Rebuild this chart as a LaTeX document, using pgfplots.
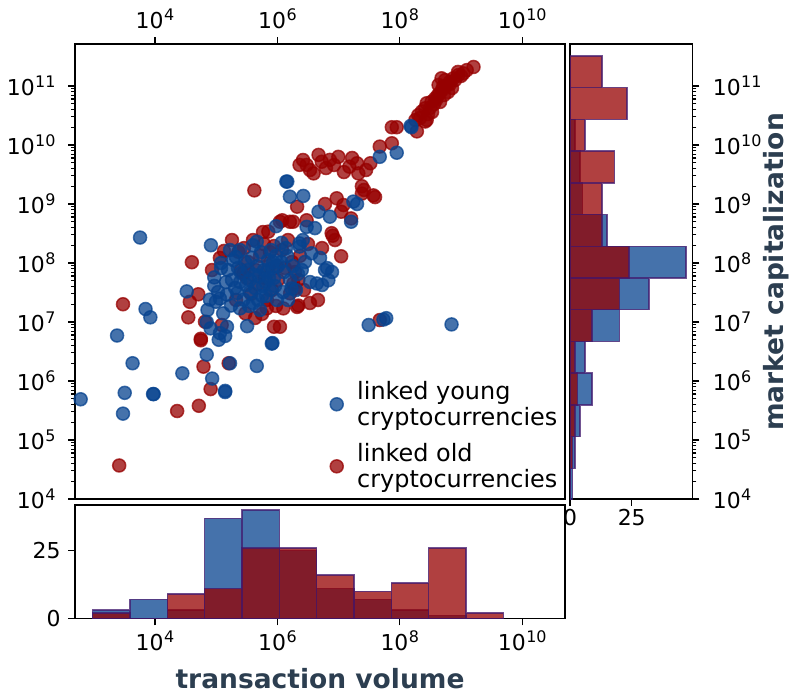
\documentclass[border=0pt]{standalone}
\usepackage{fontspec}
\setmainfont{DejaVu Sans}
\usepackage{pgfplots}
\pgfplotsset{compat=1.18}
\definecolor{ybl}{RGB}{7,67,143}
\definecolor{ord}{RGB}{150,0,0}
\definecolor{edg}{RGB}{65,25,110}
\definecolor{lab}{RGB}{44,62,80}
\newcommand\tp[1]{10\kern0.5bp\raisebox{0.35em}{\fontsize{16}{16}\selectfont #1}}
\pgfplotsset{log number format basis/.code 2 args={\tp{\pgfmathprintnumber{#2}}}}
\pgfplotsset{
  every axis/.append style={scale only axis,
    axis line style={line width=1.3bp},
    every tick/.style={line width=1.2bp, black},
    major tick length=7bp, minor tick length=4bp, tick align=outside,
    tick label style={font=\fontsize{22}{24}\selectfont},
    /pgf/number format/assume math mode=true},
  bluept/.style={only marks, mark=*, mark size=6.5bp,
    mark options={fill=ybl, draw=ybl, line width=1.5bp, fill opacity=0.75, draw opacity=0.75}},
  redpt/.style={only marks, mark=*, mark size=6.5bp,
    mark options={fill=ord, draw=ord, line width=1.5bp, fill opacity=0.75, draw opacity=0.75}},
  bluebar/.style={fill=ybl, fill opacity=0.75, draw=edg, draw opacity=0.75, line width=1.5bp},
  redbar/.style={fill=ord, fill opacity=0.75, draw=edg, draw opacity=0.75, line width=1.5bp},
}
\begin{document}
\begin{tikzpicture}
\path[use as bounding box] (0,0) rectangle (793bp,-695bp);
% main scatter
\begin{axis}[at={(75bp,-499bp)}, anchor=south west, width=490bp, height=455bp,
  xmode=log, ymode=log, xmin=493, xmax=5.0e10, ymin=1e4, ymax=5.15e11,
  xtick={1e4,1e6,1e8,1e10}, xminorticks=false, xtick pos=right, xticklabel pos=right,
  xticklabel style={yshift=5bp},
  ytick={1e4,1e5,1e6,1e7,1e8,1e9,1e10,1e11}, ytick pos=left,
  yticklabel style={xshift=-9bp},
  legend style={draw=none, fill=none, at={(rel axis cs:0.995,0.012)}, anchor=south east,
    font=\fontsize{24}{26.5}\selectfont, cells={align=left}, row sep=12bp,
    /tikz/every odd column/.append style={column sep=12bp}},
  legend cell align=left]
\addlegendimage{bluept}
\addlegendentry{linked young\\cryptocurrencies}
\addlegendimage{redpt}
\addlegendentry{linked old\\cryptocurrencies}
\addplot[redpt, forget plot] coordinates {
(3.0e3,2.0e7) (2.6e3,3.7e4) (2.3e4,3.1e5) (5.2e4,3.8e5) (8.1e4,7.3e5) (6.2e4,1.75e6)
(5.6e4,5.2e6) (5.6e4,4.9e6) (3.5e4,1.2e7) (3.7e4,2.2e7) (5.1e4,2.95e7) (4.0e4,1.03e8)
(1.34e5,1.6e8) (1.6e5,2.0e6) (6.56e4,1.01e7) (1.23e5,8.9e6) (4.2e5,1.7e9) (2.1e6,9.0e8)
(7.1e5,3.4e8) (1.1e6,5.0e8) (1.6e6,5.0e8) (2.3e5,1.55e8) (2.8e5,6.7e7) (2.54e5,7.6e7)
(6.7e5,1.7e7) (1.25e6,1.7e7) (2.1e6,1.8e7) (3.0e5,1.4e7) (8.8e5,8.3e6)
(2.3e6,4.6e9) (3.0e6,4.6e9) (3.9e6,3.3e9) (4.7e6,6.8e9) (5.3e6,5.2e9) (7.2e6,5.6e9)
(9.9e6,6.3e9) (1.5e7,4.3e9) (2.0e7,4.9e9) (2.1e7,3.3e9) (3.3e7,4.9e9) (4.7e7,9.4e9)
(7.4e7,1.07e10) (6.0e6,1.0e9) (9.3e6,1.25e9) (1.2e7,9.6e8) (1.1e7,7.4e8) (2.4e7,2.0e9)
(2.4e7,1.5e9) (3.7e7,1.4e9) (1.6e7,5.7e8) (1.8e6,5.0e8) (3.0e6,5.3e8) (1.2e6,5.3e8)
(7.7e6,3.2e8) (8.0e6,2.9e8) (1.1e7,1.3e8) (2.2e6,1.9e7) (3.4e6,2.1e7) (1.82e6,4.5e7)
(1.94e6,3.7e7) (4.7e7,1.08e7) (1.1e6,8.3e6)
(1.6e9,2.1e11) (1.24e9,1.86e11) (1.09e9,1.64e11) (9.0e8,1.53e11) (7.5e8,1.35e11)
(6.6e8,1.18e11) (5.5e8,1.26e11) (4.8e8,1.35e11) (5.1e8,9.8e10) (4.3e8,1.04e11)
(4.5e8,7.5e10) (3.8e8,6.2e10) (3.3e8,5.4e10) (2.75e8,5.1e10) (2.6e8,4.2e10)
(2.3e8,3.7e10) (2.0e8,3.2e10) (1.8e8,2.65e10) (2.6e8,2.5e10) (1.9e8,1.7e10)
(8.9e7,2.0e10) (7.4e7,2.0e10) (2.75e8,2.65e10)
(3.11e8,4.24e10) (3.36e8,3.62e10) (3.62e8,4.95e10) (3.91e8,5.79e10) (4.21e8,7.03e10)
(4.54e8,5.36e10) (4.90e8,8.55e10) (5.27e8,7.03e10) (5.69e8,1.0e11) (6.14e8,7.91e10)
(6.61e8,1.08e11) (7.13e8,9.25e10) (7.98e8,1.26e11) (8.93e8,1.73e11) (1.0e9,1.48e11)
(2.14e8,2.87e10) (2.89e8,3.35e10)
(9.75e5,8.67e7) (1.61e6,3.06e7) (2.2e6,5.15e7)
(2.84e5,1.79e8) (3.31e5,1.04e8) (3.71e5,2.99e7) (3.99e5,2.45e8) (4.47e5,7.60e7)
(4.82e5,4.41e7) (5.20e5,1.32e8) (5.60e5,1.37e7) (6.04e5,2.10e8) (6.27e5,5.57e7)
(6.76e5,2.36e7) (7.29e5,8.89e7) (7.57e5,1.53e8) (8.17e5,3.48e7) (8.79e5,1.94e8)
(9.48e5,1.87e7) (1.02e6,5.15e7) (3.18e5,5.57e7) (4.31e5,1.17e7) (5.82e5,3.35e8)
(1.19e6,1.66e8) (1.33e6,8.22e7) (1.49e6,2.45e8) (1.73e6,1.04e8) (1.94e6,7.03e7)
(2.34e6,1.32e8) (2.72e6,3.48e7) (3.16e6,2.10e8)
(8.53e4,7.6e7) (1.15e5,1.22e8) (1.81e5,2.45e8) (2.11e5,2.36e7)
(5.36e6,1.79e8) (8.73e6,2.45e8) (4.6e6,2.36e7)
(2.6e7,1.73e9) (3.94e7,1.31e9)
(2.62e6,5.57e9) (3.41e6,3.77e9) (6.22e6,4.07e9) (8.41e6,4.58e9) (1.22e7,3.48e9)
(1.66e7,6.03e9) (2.81e7,3.77e9)
};
\addplot[bluept, forget plot] coordinates {
(6.1e2,4.9e5) (5.7e3,2.7e8) (2.4e3,5.9e6) (7.0e3,1.66e7) (8.4e3,1.2e7) (4.3e3,2.0e6)
(3.2e3,6.3e5) (3.0e3,2.8e5) (9.3e3,6.0e5) (9.5e3,6.0e5) (2.8e4,1.35e6) (8.2e4,2.0e8)
(3.3e4,3.3e7) (8.6e4,1.1e6) (7.0e4,2.8e6) (1.4e5,6.8e5) (1.4e5,6.5e5) (4.6e5,1.8e6)
(3.2e5,8.5e6) (8.1e5,4.3e6) (8.3e5,4.4e6) (1.4e6,2.4e9) (1.45e6,2.4e9) (1.6e6,1.33e9)
(2.65e6,1.37e9) (9.3e4,5.7e7) (9.3e4,4.1e7) (1.2e5,1.0e8) (1.2e5,8.2e7) (7.2e4,1.6e7)
(8.1e4,7.8e6) (1.1e5,5.0e6) (1.4e5,5.8e6) (1.68e5,2.0e6) (4.7e6,7.4e8) (7.2e6,6.1e8)
(1.74e7,1.1e9) (2.0e7,1.0e9) (1.6e7,5.0e8) (3.0e6,4.1e8) (4.1e6,3.9e8) (2.3e6,2.15e8)
(2.3e6,1.9e8) (2.6e6,2.45e8) (3.6e6,1.46e8) (6.0e6,7.6e7) (6.5e6,8.2e7) (4.4e6,4.5e7)
(6.8e6,5.1e7) (2.5e6,7.6e7) (1.7e6,3.7e7) (3.1e7,8.9e6) (5.4e7,1.1e7) (6.0e7,1.16e7)
(4.7e7,6.3e9) (8.9e7,7.4e9) (1.5e8,2.1e10) (1.55e8,2.0e10) (7.0e8,9.1e6) (1.9e5,1.12e8)
(7.9e4,2.4e7) (1.15e5,2.5e7) (1.5e5,2.9e7) (2.2e5,3.1e7) (2.8e5,2.4e7) (4.0e5,2.1e7)
(7.0e4,1.0e7) (1.3e5,1.4e7) (2.45e5,1.7e7) (1.5e5,8.3e6) (1.15e5,6.5e6) (9.9e4,2.2e7)
(1.75e5,1.9e7) (4.6e5,2.3e8) (4.0e5,2.0e8) (9.5e5,4.2e8) (1.17e6,2.2e8) (2.1e5,1.26e8)
(2.96e5,1.04e8) (3.31e5,7.60e7) (3.56e5,5.15e7) (3.85e5,1.22e8) (4.31e5,3.77e7)
(4.65e5,8.89e7) (5.00e5,6.03e7) (5.40e5,1.53e8) (5.60e5,2.76e7) (6.04e5,7.60e7)
(6.52e5,4.76e7) (7.02e5,1.12e8) (7.57e5,3.48e7) (8.17e5,8.22e7) (8.79e5,5.57e7)
(9.48e5,1.32e8) (9.84e5,2.36e7) (4.82e5,2.36e7) (3.56e5,3.22e7) (3.07e5,4.24e7)
(5.82e5,4.07e7) (6.76e5,7.03e7) (7.85e5,1.66e8) (9.14e5,4.07e7) (1.02e6,8.89e7)
(3.44e5,1.87e7) (5.20e5,1.60e7) (6.52e5,2.76e7) (4.15e5,6.27e7) (7.29e5,5.57e7)
(8.47e5,1.04e8)
(1.15e6,1.04e8) (1.28e6,7.03e7) (1.44e6,1.32e8) (1.61e6,5.15e7) (1.80e6,8.89e7)
(2.01e6,3.48e7) (1.24e6,3.22e7) (1.49e6,2.36e7) (2.17e6,6.52e7) (2.82e6,1.04e8)
(3.41e6,4.76e7) (1.38e6,1.79e8)
(1.56e5,7.60e7) (1.81e5,5.15e7) (2.27e5,8.22e7) (2.45e5,4.76e7) (2.03e5,3.77e7)
(1.45e5,4.76e7) (1.68e5,1.66e8) (2.45e5,1.66e8) (1.07e5,3.22e7) (2.54e5,6.78e7)
(4.97e6,1.22e8) (5.36e6,4.24e7) (7.80e6,7.03e7)
};
\end{axis}
% right histogram
\begin{axis}[at={(570bp,-499bp)}, anchor=south west, width=122.3bp, height=455bp,
  ymode=log, xmin=0, xmax=49.55, ymin=1e4, ymax=5.15e11,
  xtick={0,25}, xtick pos=left,
  ytick={1e4,1e5,1e6,1e7,1e8,1e9,1e10,1e11}, ytick pos=right, yticklabel pos=right,
  yticklabel style={xshift=10bp}]
\addplot[xbar interval, bluebar] coordinates {
(1,9.62e3) (2,3.32e4) (4,1.143e5) (9,3.94e5) (6,1.358e6) (20,4.69e6) (32,1.614e7)
(47,5.57e7) (15,1.919e8) (5,6.62e8) (4,2.28e9) (2,7.87e9) (0,2.71e10) (0,9.35e10) (0,3.22e11)};
\addplot[xbar interval, redbar] coordinates {
(0,9.62e3) (1,3.32e4) (2,1.143e5) (3,3.94e5) (2,1.358e6) (9,4.69e6) (20,1.614e7)
(24,5.57e7) (13,1.919e8) (13,6.62e8) (18,2.28e9) (6,7.87e9) (23,2.71e10) (13,9.35e10) (13,3.22e11)};
\end{axis}
% bottom histogram
\begin{axis}[at={(75bp,-618.3bp)}, anchor=south west, width=490bp, height=113.3bp,
  axis background/.style={fill=white},
  xmode=log, xmin=493, xmax=5.0e10, ymin=0, ymax=41.9,
  xtick={1e4,1e6,1e8,1e10}, xminorticks=false, xtick pos=left,
  xticklabel style={yshift=-2bp},
  ytick={0,25}, ytick pos=left, yticklabel style={xshift=-4bp}]
\addplot[ybar interval, bluebar] coordinates {
(9.59e2,3) (3.90e3,7) (1.589e4,3) (6.49e4,37) (2.64e5,40) (1.074e6,25) (4.39e6,11)
(1.786e7,7) (7.26e7,3) (2.96e8,1) (1.208e9,0) (4.91e9,0)};
\addplot[ybar interval, redbar] coordinates {
(9.59e2,2) (3.90e3,0) (1.589e4,9) (6.49e4,11) (2.64e5,26) (1.074e6,26) (4.39e6,16)
(1.786e7,10) (7.26e7,13) (2.96e8,26) (1.208e9,2) (4.91e9,0)};
\end{axis}
\node[anchor=base, font=\fontsize{26.6}{30}\selectfont\bfseries, text=lab] at (320bp,-688bp) {transaction volume};
\node[anchor=base, rotate=90, font=\fontsize{26.6}{30}\selectfont\bfseries, text=lab] at (783bp,-272bp) {market capitalization};
\end{tikzpicture}
\end{document}
